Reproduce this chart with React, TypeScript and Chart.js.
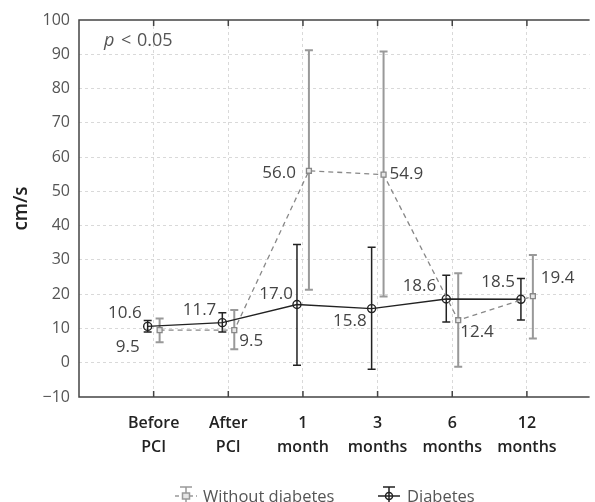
import React, { useEffect, useRef } from "react";
import { Chart, registerables } from "chart.js";

Chart.register(...registerables);

const categories: string[][] = [
  ["Before", "PCI"],
  ["After", "PCI"],
  ["1", "month"],
  ["3", "months"],
  ["6", "months"],
  ["12", "months"],
];

const diabetesMean = [10.6, 11.7, 17.0, 15.8, 18.6, 18.5];
const diabetesLow = [9.0, 9.0, -0.7, -1.9, 11.9, 12.5];
const diabetesHigh = [12.3, 14.6, 34.5, 33.7, 25.5, 24.6];

const noDiabetesMean = [9.5, 9.5, 56.0, 54.9, 12.4, 19.4];
const noDiabetesLow = [6.0, 3.9, 21.3, 19.3, -1.2, 7.1];
const noDiabetesHigh = [12.9, 15.4, 91.2, 90.8, 26.1, 31.4];

const yMin = -10;
const yMax = 100;
const yStep = 10;

// label placement (pixel offsets from point, alignment)
const diabetesLabelPos: [number, number, CanvasTextAlign][] = [
  [-6, -13, "right"],
  [-6, -12, "right"],
  [-4, -10, "right"],
  [-5, 13, "right"],
  [-10, -13, "right"],
  [-6, -17, "right"],
];
const noDiabetesLabelPos: [number, number, CanvasTextAlign][] = [
  [-20, 17, "right"],
  [5, 11, "left"],
  [-13, 2, "right"],
  [6, 0, "left"],
  [2, 12, "left"],
  [8, -18, "left"],
];

const FONT = "'Open Sans', 'Noto Sans', sans-serif";
const OFFSET = 0.08;

export default function App() {
  const ref = useRef<HTMLCanvasElement | null>(null);

  useEffect(() => {
    document.body.style.margin = "0";
    const canvas = ref.current;
    if (!canvas) return;
    Chart.defaults.font.family = FONT;

    const series = [
      {
        mean: noDiabetesMean,
        low: noDiabetesLow,
        high: noDiabetesHigh,
        off: OFFSET,
        color: "#999999",
        width: 2,
        labels: noDiabetesLabelPos,
      },
      {
        mean: diabetesMean,
        low: diabetesLow,
        high: diabetesHigh,
        off: -OFFSET,
        color: "#222222",
        width: 1.5,
        labels: diabetesLabelPos,
      },
    ];

    const errorBars = {
      id: "errorBars",
      beforeDatasetsDraw(chart: any) {
        const { ctx, scales } = chart;
        const xs = scales.x;
        const ys = scales.y;
        ctx.save();
        series.forEach((s) => {
          ctx.strokeStyle = s.color;
          ctx.lineWidth = s.width;
          s.mean.forEach((_, i) => {
            const x = xs.getPixelForValue(i + 1 + s.off);
            const y1 = ys.getPixelForValue(s.low[i]);
            const y2 = ys.getPixelForValue(s.high[i]);
            ctx.beginPath();
            ctx.moveTo(x, y1);
            ctx.lineTo(x, y2);
            ctx.moveTo(x - 4, y1);
            ctx.lineTo(x + 4, y1);
            ctx.moveTo(x - 4, y2);
            ctx.lineTo(x + 4, y2);
            ctx.stroke();
          });
        });
        ctx.restore();
      },
      afterDraw(chart: any) {
        const { ctx, scales, chartArea } = chart;
        const xs = scales.x;
        const ys = scales.y;
        const { left, right, top, bottom } = chartArea;
        ctx.save();
        // frame
        ctx.strokeStyle = "#444";
        ctx.lineWidth = 1.5;
        ctx.beginPath();
        ctx.moveTo(right, top);
        ctx.lineTo(left, top);
        ctx.lineTo(left, bottom);
        ctx.lineTo(right, bottom);
        ctx.stroke();
        categories.forEach((_, i) => {
          const x = xs.getPixelForValue(i + 1);
          ctx.beginPath();
          ctx.moveTo(x, top);
          ctx.lineTo(x, top + 6);
          ctx.moveTo(x, bottom);
          ctx.lineTo(x, bottom - 6);
          ctx.stroke();
        });
        // data labels
        ctx.font = `17px ${FONT}`;
        ctx.fillStyle = "#444";
        ctx.textBaseline = "middle";
        series.forEach((s) => {
          s.mean.forEach((v, i) => {
            const x = xs.getPixelForValue(i + 1 + s.off);
            const y = ys.getPixelForValue(v);
            const [dx, dy, al] = s.labels[i];
            ctx.textAlign = al;
            ctx.fillText(v.toFixed(1), x + dx, y + dy);
          });
        });
        // p < 0.05
        ctx.textAlign = "left";
        ctx.fillStyle = "#555";
        ctx.font = `italic 18px ${FONT}`;
        ctx.fillText("p", 104, 41);
        ctx.font = `18px ${FONT}`;
        ctx.fillText("<", 121, 41);
        ctx.fillText("0.05", 137, 41);

        // legend
        const ly = 496;
        const drawIcon = (cx: number, color: string, dashed: boolean, square: boolean) => {
          ctx.strokeStyle = color;
          ctx.lineWidth = 1.5;
          ctx.setLineDash(dashed ? [4, 3] : []);
          ctx.beginPath();
          ctx.moveTo(cx - 11, ly);
          ctx.lineTo(cx + 11, ly);
          ctx.stroke();
          ctx.setLineDash([]);
          ctx.beginPath();
          ctx.moveTo(cx, 487);
          ctx.lineTo(cx, 505);
          ctx.moveTo(cx - 6, 487);
          ctx.lineTo(cx + 6, 487);
          ctx.stroke();
          if (square) {
            ctx.fillStyle = "#e6e6e6";
            ctx.fillRect(cx - 3.5, ly - 3, 7, 6);
            ctx.strokeRect(cx - 3.5, ly - 3, 7, 6);
          } else {
            ctx.beginPath();
            ctx.arc(cx, ly, 3.5, 0, Math.PI * 2);
            ctx.stroke();
          }
        };
        drawIcon(186, "#999", true, true);
        drawIcon(389, "#222", false, false);
        ctx.font = `16.5px ${FONT}`;
        ctx.fillStyle = "#555";
        ctx.textAlign = "left";
        ctx.fillText("Without diabetes", 203, ly + 1);
        ctx.fillText("Diabetes", 407, ly + 1);
        ctx.restore();
      },
    };

    const chart = new Chart(canvas, {
      type: "line",
      data: {
        datasets: [
          {
            label: "Without diabetes",
            data: noDiabetesMean.map((v, i) => ({ x: i + 1 + OFFSET, y: v })),
            borderColor: "#888",
            borderWidth: 1.3,
            borderDash: [5, 4],
            pointStyle: "rect",
            pointRadius: 3.5,
            pointBorderWidth: 1.3,
            pointBorderColor: "#888",
            pointBackgroundColor: "#e6e6e6",
            tension: 0,
          },
          {
            label: "Diabetes",
            data: diabetesMean.map((v, i) => ({ x: i + 1 - OFFSET, y: v })),
            borderColor: "#222",
            borderWidth: 1.4,
            pointStyle: "circle",
            pointRadius: 4,
            pointBorderWidth: 1.4,
            pointBorderColor: "#222",
            pointBackgroundColor: "rgba(255,255,255,0)",
            tension: 0,
          },
        ],
      },
      options: {
        responsive: false,
        animation: false,
        layout: { padding: { top: 20, right: 0, left: 0, bottom: 0 } },
        plugins: {
          legend: { display: false },
          tooltip: { enabled: false },
        },
        scales: {
          x: {
            type: "linear",
            min: 0,
            max: 6.84,
            afterBuildTicks: (scale: any) => {
              scale.ticks = categories.map((_, i) => ({ value: i + 1 }));
            },
            afterFit: (scale: any) => {
              scale.height = 105;
            },
            ticks: {
              autoSkip: false,
              maxRotation: 0,
              padding: 14,
              color: "#222",
              font: { size: 16, weight: "600", lineHeight: 1.5 },
              callback: (v: any) => categories[Math.round(v) - 1] || "",
            },
            grid: { color: "#d9d9d9", drawTicks: false, lineWidth: 1 },
            border: { display: false, dash: [3, 3] },
          },
          y: {
            type: "linear",
            min: yMin,
            max: yMax,
            afterFit: (scale: any) => {
              scale.width = 79;
            },
            ticks: {
              stepSize: yStep,
              padding: 9,
              color: "#555",
              font: { size: 16 },
              callback: (v: any) => (v < 0 ? "\u2212" + Math.abs(v) : String(v)),
            },
            grid: {
              drawTicks: false,
              lineWidth: 1,
              color: (c: any) =>
                c.tick && (c.tick.value === yMax || c.tick.value === yMin)
                  ? "rgba(0,0,0,0)"
                  : "#d9d9d9",
            },
            border: { display: false, dash: [3, 3] },
            title: {
              display: true,
              text: "cm/s",
              color: "#222",
              font: { size: 19, weight: "600" },
              padding: { top: 10, bottom: 0 },
            },
          },
        },
      },
      plugins: [errorBars],
    } as any);

    return () => chart.destroy();
  }, []);

  return (
    <canvas
      ref={ref}
      width={595}
      height={502}
      style={{ display: "block", width: 595, height: 502 }}
    />
  );
}
